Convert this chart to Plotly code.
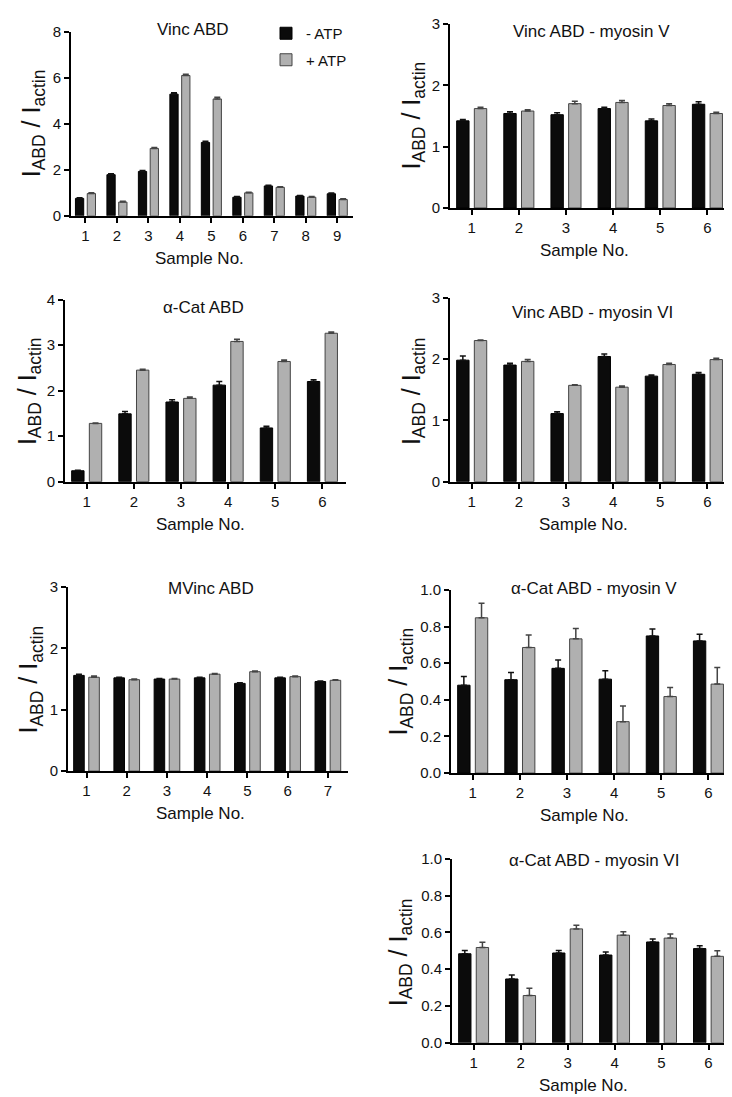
import plotly.graph_objects as go

W, H = 732, 1097
FONT = "Liberation Sans, Arial, sans-serif"

# ---------------- data ----------------
titles = ["Vinc ABD", "Vinc ABD - myosin V", "α-Cat ABD", "Vinc ABD - myosin VI",
          "MVinc ABD", "α-Cat ABD - myosin V", "α-Cat ABD - myosin VI"]
series_names = ["- ATP", "+ ATP"]

p1_neg = [0.76, 1.79, 1.93, 5.29, 3.19, 0.81, 1.30, 0.86, 0.96]
p1_neg_err = [0.03, 0.04, 0.04, 0.06, 0.05, 0.03, 0.03, 0.03, 0.03]
p1_pos = [0.97, 0.60, 2.93, 6.10, 5.08, 1.00, 1.24, 0.81, 0.71]
p1_pos_err = [0.03, 0.03, 0.04, 0.05, 0.08, 0.03, 0.03, 0.03, 0.03]

p2_neg = [1.42, 1.54, 1.52, 1.62, 1.42, 1.69]
p2_neg_err = [0.02, 0.03, 0.03, 0.02, 0.03, 0.04]
p2_pos = [1.62, 1.58, 1.70, 1.72, 1.67, 1.54]
p2_pos_err = [0.02, 0.02, 0.04, 0.03, 0.03, 0.02]

p3_neg = [0.24, 1.49, 1.75, 2.12, 1.18, 2.20]
p3_neg_err = [0.01, 0.05, 0.05, 0.08, 0.04, 0.04]
p3_pos = [1.28, 2.45, 1.83, 3.08, 2.64, 3.26]
p3_pos_err = [0.01, 0.02, 0.03, 0.05, 0.03, 0.03]

p4_neg = [1.98, 1.90, 1.11, 2.04, 1.72, 1.75]
p4_neg_err = [0.07, 0.03, 0.03, 0.04, 0.02, 0.03]
p4_pos = [2.30, 1.96, 1.57, 1.54, 1.91, 1.99]
p4_pos_err = [0.01, 0.03, 0.01, 0.02, 0.02, 0.02]

p5_neg = [1.56, 1.52, 1.50, 1.52, 1.43, 1.52, 1.46]
p5_neg_err = [0.02, 0.01, 0.01, 0.01, 0.01, 0.01, 0.01]
p5_pos = [1.53, 1.49, 1.50, 1.58, 1.62, 1.54, 1.48]
p5_pos_err = [0.02, 0.01, 0.01, 0.01, 0.01, 0.01, 0.01]

p6_neg = [0.48, 0.51, 0.572, 0.513, 0.749, 0.722]
p6_neg_err = [0.048, 0.040, 0.046, 0.046, 0.038, 0.036]
p6_pos = [0.848, 0.686, 0.733, 0.281, 0.418, 0.486]
p6_pos_err = [0.080, 0.068, 0.057, 0.086, 0.050, 0.091]

p7_neg = [0.484, 0.347, 0.488, 0.477, 0.548, 0.512]
p7_neg_err = [0.018, 0.021, 0.014, 0.016, 0.016, 0.015]
p7_pos = [0.518, 0.257, 0.619, 0.585, 0.569, 0.470]
p7_pos_err = [0.028, 0.039, 0.020, 0.018, 0.022, 0.030]

y_max = [8, 3, 4, 3, 3, 1.0, 1.0]
y_dtick = [2, 1, 1, 1, 1, 0.2, 0.2]
y_fmt = ["d", "d", "d", "d", "d", ".1f", ".1f"]

panels = [
    (p1_neg, p1_neg_err, p1_pos, p1_pos_err),
    (p2_neg, p2_neg_err, p2_pos, p2_pos_err),
    (p3_neg, p3_neg_err, p3_pos, p3_pos_err),
    (p4_neg, p4_neg_err, p4_pos, p4_pos_err),
    (p5_neg, p5_neg_err, p5_pos, p5_pos_err),
    (p6_neg, p6_neg_err, p6_pos, p6_pos_err),
    (p7_neg, p7_neg_err, p7_pos, p7_pos_err),
]

# ---------------- layout (pixel boxes of plot areas) ----------------
boxes = [  # x0, x1, ytop, ybottom
    (63, 345, 15, 202),
    (442, 723, 7, 194),
    (57, 338, 287, 472),
    (442, 723, 285, 472),
    (60, 340, 579, 766),
    (443, 724, 582, 768),
    (444, 724, 855, 1042),
]
title_pos = [(185, 13), (583, 15), (195, 295), (584, 300), (203, 581), (586, 581), (586, 857)]
ytitle_pos = [(25, 108), (405, 100), (21, 380), (405, 380), (22, 673), (392, 675), (392, 950)]
xtitle_cx = [191, 576, 192, 575, 192, 576, 575]

BLACK = "#0b0b0b"
GRAY = "#b0b0b0"

fig = go.Figure()
annotations = []
for i, (neg, neg_err, pos, pos_err) in enumerate(panels):
    n = len(neg)
    xs = list(range(1, n + 1))
    ax = "" if i == 0 else str(i + 1)
    fig.add_trace(go.Bar(
        x=xs, y=neg, name=series_names[0], legendgroup="neg", showlegend=(i == 0),
        offsetgroup="neg", xaxis="x" + ax, yaxis="y" + ax,
        marker=dict(color=BLACK, line=dict(color="#000000", width=1)),
        error_y=dict(type="data", array=neg_err, symmetric=False, arrayminus=[0] * n,
                     color="#111111", thickness=1.5, width=3),
    ))
    fig.add_trace(go.Bar(
        x=xs, y=pos, name=series_names[1], legendgroup="pos", showlegend=(i == 0),
        offsetgroup="pos", xaxis="x" + ax, yaxis="y" + ax,
        marker=dict(color=GRAY, line=dict(color="#444444", width=1)),
        error_y=dict(type="data", array=pos_err, symmetric=False, arrayminus=[0] * n,
                     color="#444444", thickness=1.5, width=3),
    ))
    x0, x1, yt, yb = boxes[i]
    common = dict(showline=True, linecolor="black", linewidth=2, ticks="outside",
                  tickcolor="black", tickwidth=1.5, ticklen=5, showgrid=False,
                  zeroline=False, tickfont=dict(family=FONT, size=15, color="#111"))
    fig.layout["xaxis" + ax] = dict(
        domain=[x0 / W, x1 / W], anchor="y" + ax, range=[0.54, n + 0.5],
        tickmode="array", tickvals=xs, ticktext=[str(v) for v in xs], **common)
    fig.layout["yaxis" + ax] = dict(
        domain=[1 - yb / H, 1 - yt / H], anchor="x" + ax, range=[0, y_max[i]],
        tick0=0, dtick=y_dtick[i], tickformat=y_fmt[i], **common)
    tx, ty = title_pos[i]
    annotations.append(dict(text=titles[i], x=tx / W, y=1 - ty / H, xref="paper", yref="paper",
                            showarrow=False, xanchor="center", yanchor="middle",
                            font=dict(family=FONT, size=17, color="#111")))
    annotations.append(dict(text="Sample No.", x=xtitle_cx[i] / W, y=1 - (yb + 43) / H,
                            xref="paper", yref="paper", showarrow=False,
                            xanchor="center", yanchor="middle",
                            font=dict(family=FONT, size=17, color="#111")))
    yx, yy = ytitle_pos[i]
    annotations.append(dict(text="I<sub>ABD</sub> / I<sub>actin</sub>", x=yx / W, y=1 - yy / H,
                            xref="paper", yref="paper", showarrow=False, textangle=-90,
                            xanchor="center", yanchor="middle",
                            font=dict(family=FONT, size=25, color="#111")))

fig.update_layout(
    width=W, height=H, margin=dict(l=0, r=0, t=0, b=0),
    paper_bgcolor="white", plot_bgcolor="white",
    barmode="group", bargap=0.25, bargroupgap=0.3,
    annotations=annotations,
    showlegend=True,
    legend=dict(x=258 / W, y=1.0, xanchor="left", yanchor="top",
                font=dict(family=FONT, size=15, color="#111"),
                bgcolor="rgba(0,0,0,0)", tracegroupgap=4),
    font=dict(family=FONT),
)

fig.write_html("out.html")
